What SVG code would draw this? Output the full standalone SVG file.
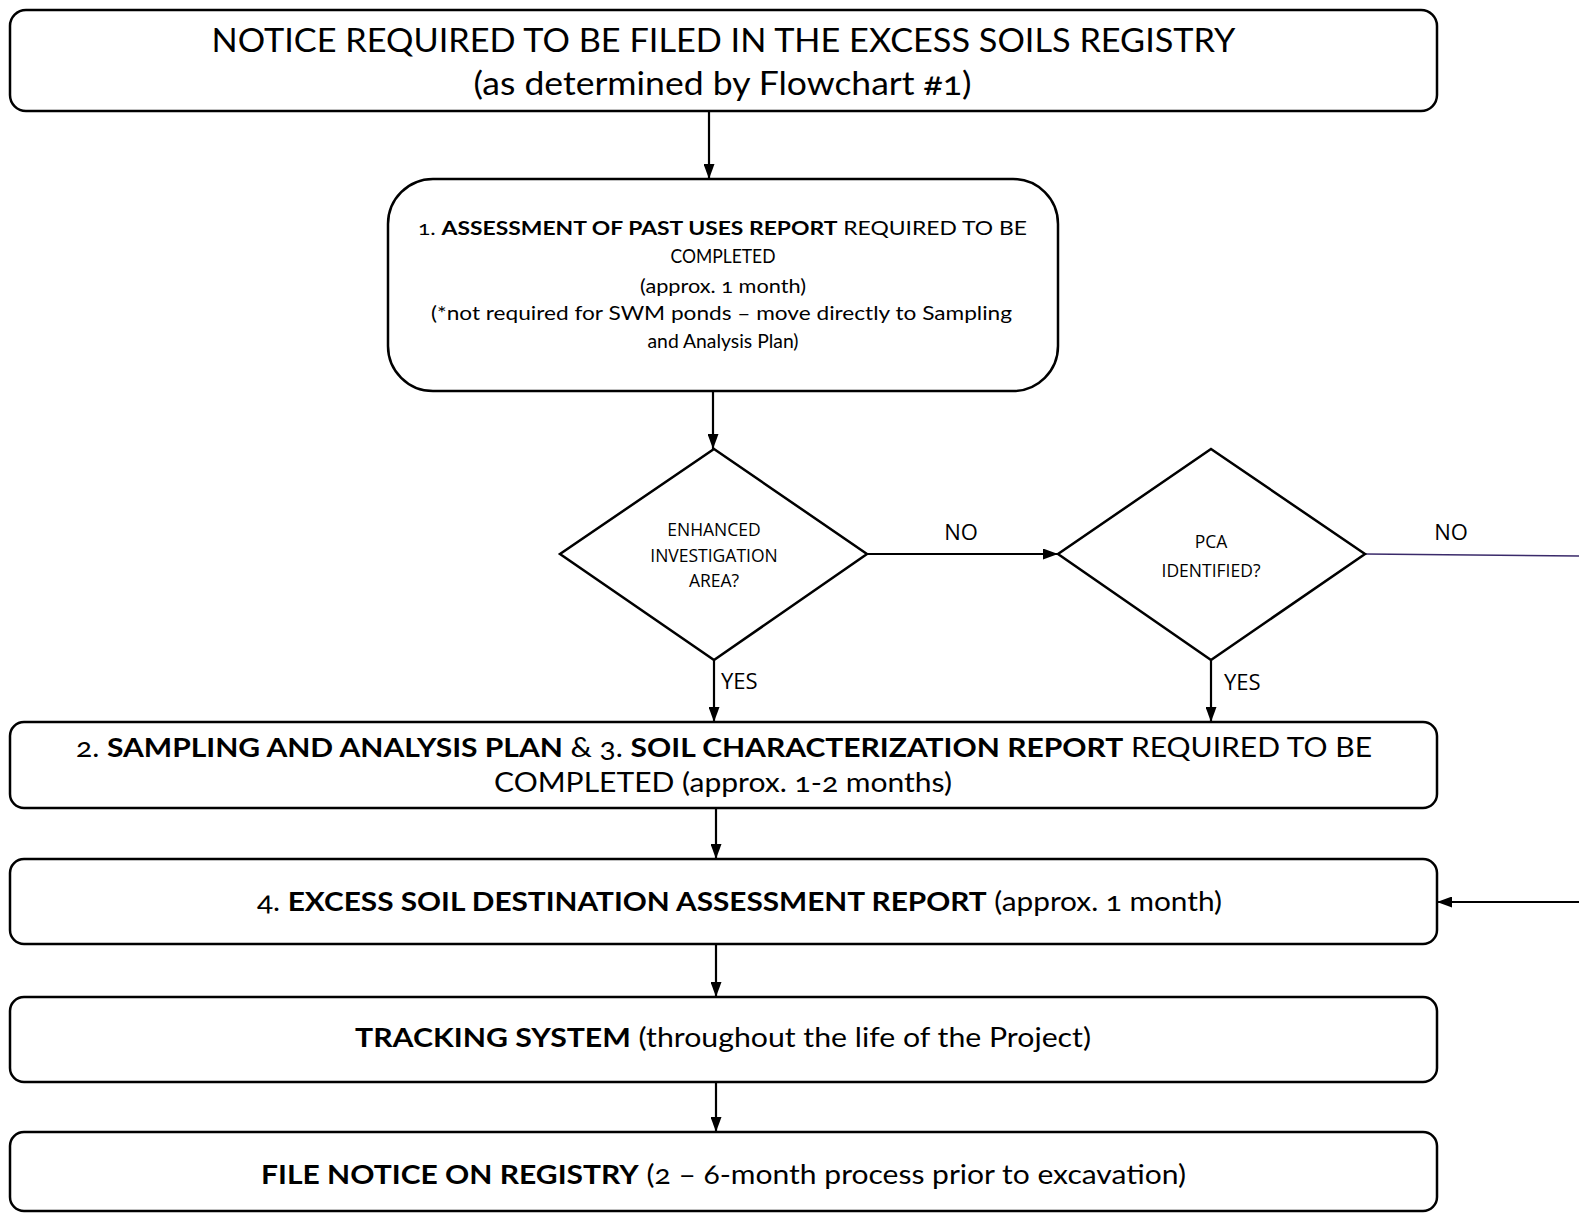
<svg xmlns="http://www.w3.org/2000/svg" width="1579" height="1213" viewBox="0 0 1579 1213">
<style>
.box{fill:#fff;stroke:#000;stroke-width:2.5}
.dia{fill:#fff;stroke:#000;stroke-width:2.5}
.t{font-family:Lato,"Open Sans","Liberation Sans",sans-serif;fill:#000;text-anchor:middle;font-variant-numeric:oldstyle-nums}
.d{font-family:"Open Sans","Noto Sans","Liberation Sans",sans-serif;fill:#000;text-anchor:middle;font-size:17.5px}
.lbl{font-family:"Open Sans","Noto Sans","Liberation Sans",sans-serif;fill:#000;font-size:22px}
.b{font-weight:700}
.c{fill:none;stroke:#000;stroke-width:2.2}
</style>
<defs>
<marker id="ah" viewBox="0 0 15 11" refX="15" refY="5.5" markerWidth="15" markerHeight="11" markerUnits="userSpaceOnUse" orient="auto">
<path d="M0,0 L15,5.5 L0,11 z" fill="#000"/>
</marker>
</defs>
<g id="connectors">
<line class="c" x1="709" y1="111" x2="709" y2="179" marker-end="url(#ah)"/>
<line class="c" x1="713" y1="391" x2="713" y2="449" marker-end="url(#ah)"/>
<line class="c" x1="867" y1="554" x2="1058" y2="554" marker-end="url(#ah)"/>
<line class="c" x1="714" y1="660" x2="714" y2="722" marker-end="url(#ah)"/>
<line class="c" x1="1211" y1="660" x2="1211" y2="722" marker-end="url(#ah)"/>
<line x1="1365" y1="554" x2="1579" y2="556" stroke="#3a2a6a" stroke-width="1.5"/>
<line class="c" x1="716" y1="808" x2="716" y2="859" marker-end="url(#ah)"/>
<line class="c" x1="1579" y1="902" x2="1437" y2="902" marker-end="url(#ah)"/>
<line class="c" x1="716" y1="944" x2="716" y2="997" marker-end="url(#ah)"/>
<line class="c" x1="716" y1="1082" x2="716" y2="1132" marker-end="url(#ah)"/>
<text class="lbl" x="961" y="540" text-anchor="middle">NO</text>
<text class="lbl" x="721" y="689">YES</text>
<text class="lbl" x="1451" y="540" text-anchor="middle">NO</text>
<text class="lbl" x="1224" y="690">YES</text>
</g>
<g id="notice">
<rect class="box" x="10" y="10" width="1427" height="101" rx="16"/>
<text class="t" x="723.5" y="52" font-size="33" textLength="1024" lengthAdjust="spacingAndGlyphs">NOTICE REQUIRED TO BE FILED IN THE EXCESS SOILS REGISTRY</text>
<text class="t" x="722.5" y="95" font-size="33" textLength="498" lengthAdjust="spacingAndGlyphs">(as determined by Flowchart #1)</text>
</g>
<g id="step1">
<rect class="box" x="388" y="179" width="670" height="212" rx="45"/>
<text class="t" x="722.5" y="235" font-size="19.5" textLength="609" lengthAdjust="spacingAndGlyphs">1. <tspan class="b">ASSESSMENT OF PAST USES REPORT</tspan> REQUIRED TO BE</text>
<text class="t" x="723" y="263" font-size="19.5" textLength="105" lengthAdjust="spacingAndGlyphs">COMPLETED</text>
<text class="t" x="723" y="293" font-size="19.5" textLength="166" lengthAdjust="spacingAndGlyphs">(approx. 1 month)</text>
<text class="t" x="721.5" y="320" font-size="19.5" textLength="581" lengthAdjust="spacingAndGlyphs">(*not required for SWM ponds – move directly to Sampling</text>
<text class="t" x="723" y="348" font-size="19.5" textLength="151" lengthAdjust="spacingAndGlyphs">and Analysis Plan)</text>
</g>
<g id="enhanced">
<polygon class="dia" points="714,449 867,554 714,660 560,554"/>
<text class="d" x="714" y="536">ENHANCED</text>
<text class="d" x="714" y="562">INVESTIGATION</text>
<text class="d" x="714" y="587">AREA?</text>
</g>
<g id="pca">
<polygon class="dia" points="1211,449 1365,554 1211,660 1058,554"/>
<text class="d" x="1211" y="548">PCA</text>
<text class="d" x="1211" y="577">IDENTIFIED?</text>
</g>
<g id="step2-3">
<rect class="box" x="10" y="722" width="1427" height="86" rx="14"/>
<text class="t" x="724" y="757" font-size="26" textLength="1296" lengthAdjust="spacingAndGlyphs">2. <tspan class="b">SAMPLING AND ANALYSIS PLAN</tspan> &amp; 3. <tspan class="b">SOIL CHARACTERIZATION REPORT</tspan> REQUIRED TO BE</text>
<text class="t" x="723" y="792" font-size="26" textLength="458" lengthAdjust="spacingAndGlyphs">COMPLETED (approx. 1-2 months)</text>
</g>
<g id="step4">
<rect class="box" x="10" y="859" width="1427" height="85" rx="14"/>
<text class="t" x="739.5" y="911" font-size="26" textLength="965" lengthAdjust="spacingAndGlyphs">4. <tspan class="b">EXCESS SOIL DESTINATION ASSESSMENT REPORT</tspan> (approx. 1 month)</text>
</g>
<g id="tracking">
<rect class="box" x="10" y="997" width="1427" height="85" rx="14"/>
<text class="t" x="723" y="1047" font-size="26" textLength="736" lengthAdjust="spacingAndGlyphs"><tspan class="b">TRACKING SYSTEM</tspan> (throughout the life of the Project)</text>
</g>
<g id="file-notice">
<rect class="box" x="10" y="1132" width="1427" height="79" rx="14"/>
<text class="t" x="723.5" y="1184" font-size="26" textLength="925" lengthAdjust="spacingAndGlyphs"><tspan class="b">FILE NOTICE ON REGISTRY</tspan> (2 – 6-month process prior to excavation)</text>
</g>
</svg>
